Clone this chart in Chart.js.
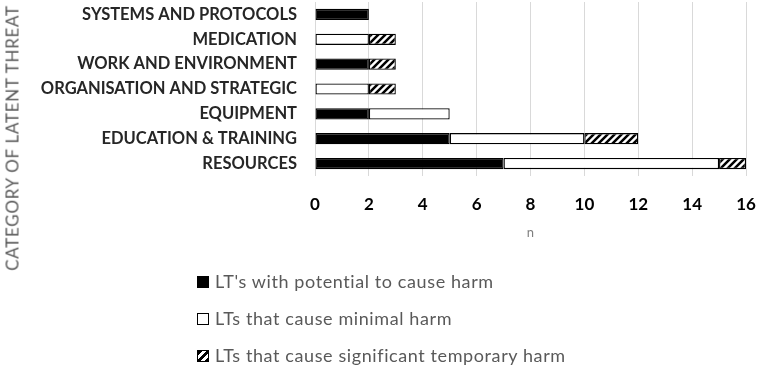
<!DOCTYPE html>
<html>
<head>
<meta charset="utf-8">
<script src="https://cdn.jsdelivr.net/npm/chart.js@4/dist/chart.umd.min.js"></script>
<style>
  body { margin: 0; background: #fff; }
  #wrap { position: relative; width: 759px; height: 365px; font-family: Lato, sans-serif; }
  #ytitle {
    position: absolute; left: 12px; top: 138px;
    transform: translate(-50%, -50%) rotate(-90deg);
    white-space: nowrap; font-size: 17px; letter-spacing: 0.7px; color: #595959;
  }
  #legend { position: absolute; left: 197px; top: 270px; color: #595959; font-size: 18px; letter-spacing: 0.6px; }
  .item { height: 37px; display: flex; align-items: flex-start; line-height: 22px; }
  .box { width: 10px; height: 10px; border: 1px solid #000; margin: 6px 6px 0 0; box-sizing: content-box; }
</style>
</head>
<body>
<div id="wrap">
  <canvas id="chart" width="759" height="365"></canvas>
  <div id="ytitle">CATEGORY OF LATENT THREAT</div>
  <div id="legend"></div>
</div>
<script>
//-----------------------------------------------------------------------------
// Chart data: number of latent threats per category, split by harm level.
//-----------------------------------------------------------------------------

const categories = [
  "SYSTEMS AND PROTOCOLS",
  "MEDICATION",
  "WORK AND ENVIRONMENT",
  "ORGANISATION AND STRATEGIC",
  "EQUIPMENT",
  "EDUCATION & TRAINING",
  "RESOURCES",
];
const potentialHarm = [2, 0, 2, 0, 2, 5, 7];
const minimalHarm = [0, 2, 0, 2, 3, 5, 8];
const significantHarm = [0, 1, 1, 1, 0, 2, 1];
const seriesNames = [
  "LT's with potential to cause harm",
  "LTs that cause minimal harm",
  "LTs that cause significant temporary harm",
];
const xTicks = [0, 2, 4, 6, 8, 10, 12, 14, 16];

const font = "Lato, sans-serif";

//-----------------------------------------------------------------------------
// Diagonal hatch used for the "significant temporary harm" segments.
//-----------------------------------------------------------------------------

function makeHatch() {
  const n = 7;
  const c = document.createElement("canvas");
  c.width = n;
  c.height = n;
  const g = c.getContext("2d");
  g.fillStyle = "#fff";
  g.fillRect(0, 0, n, n);
  g.strokeStyle = "#000";
  g.lineWidth = 2.5;
  g.beginPath();
  g.moveTo(0, n); g.lineTo(n, 0);
  g.moveTo(-n, n); g.lineTo(n, -n);
  g.moveTo(0, 2 * n); g.lineTo(2 * n, 0);
  g.stroke();
  return g.createPattern(c, "repeat");
}

const hatch = makeHatch();
const fills = ["#000", "#fff", hatch];
const series = [potentialHarm, minimalHarm, significantHarm];

const ctx = document.getElementById("chart").getContext("2d");
const chart = new Chart(ctx, {
  type: "bar",
  data: {
    labels: categories,
    datasets: series.map((values, i) => ({
      label: seriesNames[i],
      data: values,
      backgroundColor: fills[i],
      borderColor: "#000",
      borderWidth: 1.3,
      borderSkipped: false,
      categoryPercentage: 1,
      barPercentage: 0.45,
    })),
  },
  options: {
    indexAxis: "y",
    responsive: false,
    animation: false,
    layout: { padding: { top: 2, right: 13, bottom: 124, left: 0 } },
    plugins: { legend: { display: false }, tooltip: { enabled: false } },
    scales: {
      x: {
        stacked: true,
        min: 0,
        max: 16,
        afterBuildTicks: (s) => { s.ticks = xTicks.map((v) => ({ value: v })); },
        afterFit: (s) => {
          s.height = 65;
          s.paddingLeft = 0;
          s.paddingRight = 0;
        },
        ticks: { padding: 18, color: "#000", font: { family: font, size: 17, weight: "bold" } },
        grid: { color: "#d9d9d9", drawTicks: false },
        border: { display: false },
        title: { display: true, text: "n", color: "#7f7f7f", font: { family: font, size: 13 }, padding: 0 },
      },
      y: {
        stacked: true,
        afterFit: (s) => {
          s.width = 315;
          s.paddingTop = 0;
          s.paddingBottom = 0;
        },
        ticks: { padding: 18, color: "#262626", font: { family: font, size: 16.5, weight: "bold" } },
        grid: { display: false, drawTicks: false },
        border: { display: false },
      },
    },
  },
});

//-----------------------------------------------------------------------------
// Legend as a vertical list below the chart, built from the datasets.
//-----------------------------------------------------------------------------

const legendBoxes = [
  "background:#000",
  "background:#fff",
  "background:repeating-linear-gradient(135deg,#000 0 3px,#fff 3px 6px)",
];
const legend = document.getElementById("legend");
chart.data.datasets.forEach((ds, i) => {
  const item = document.createElement("div");
  item.className = "item";
  item.innerHTML = '<span class="box" style="' + legendBoxes[i] + '"></span><span>' + ds.label + "</span>";
  legend.appendChild(item);
});
</script>
</body>
</html>
